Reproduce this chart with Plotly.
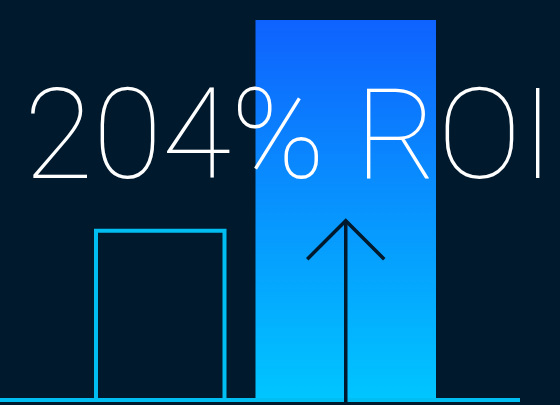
import plotly.graph_objects as go

# ---- data ----
categories = ["Before", "After"]
values = [42.3, 95.0]          # bar heights (index units)
headline = "204% ROI"
arrow_tip = 44.8               # arrow tip height (index units)

# ---- style / layout constants ----
BG = "#01192c"
CYAN = "#00bdf2"
GRAD_TOP = "#0f62fe"
GRAD_BOTTOM = "#00c6ff"
bar_centers = [160.25, 345.75]
bar_widths = [128.5, 180.5]
baseline_end = 520
head_dx = 38.5
head_dy = 9.6

fig = go.Figure()

# outlined "before" bar
fig.add_trace(go.Bar(
    x=[bar_centers[0]], y=[values[0]], width=[bar_widths[0]],
    name=categories[0],
    marker=dict(color="rgba(0,0,0,0)", line=dict(color=CYAN, width=4)),
    hoverinfo="skip",
))

# gradient "after" bar
cx, w, v = bar_centers[1], bar_widths[1], values[1]
x0, x1 = cx - w / 2, cx + w / 2
fig.add_trace(go.Scatter(
    x=[x0, x1, x1, x0, x0], y=[0, 0, v, v, 0],
    name=categories[1], mode="lines", line=dict(width=0),
    fill="toself",
    fillgradient=dict(type="vertical",
                      colorscale=[[0, GRAD_BOTTOM], [1, GRAD_TOP]]),
    hoverinfo="skip",
))

# baseline
fig.add_trace(go.Scatter(
    x=[0, baseline_end], y=[0, 0], mode="lines",
    line=dict(color=CYAN, width=4), hoverinfo="skip",
))

# arrow
fig.add_trace(go.Scatter(
    x=[cx, cx, None, cx - head_dx, cx, cx + head_dx],
    y=[-5, arrow_tip, None, arrow_tip - head_dy, arrow_tip, arrow_tip - head_dy],
    mode="lines", line=dict(color=BG, width=3.5), hoverinfo="skip",
))

fig.add_annotation(
    x=289, y=(405 - 135) / 405, xref="x", yref="paper",
    text=headline, showarrow=False,
    font=dict(family="Roboto", size=126, color="white", weight=100),
    xanchor="center", yanchor="middle",
)

fig.update_layout(
    width=560, height=405,
    margin=dict(l=0, r=0, t=0, b=0),
    paper_bgcolor=BG, plot_bgcolor=BG,
    showlegend=False, barmode="overlay",
    xaxis=dict(range=[0, 560], visible=False, fixedrange=True),
    yaxis=dict(range=[-1.25, 100], visible=False, fixedrange=True),
)

fig.write_html("out.html", config={"displayModeBar": False},
               post_script="document.body.style.margin='0';")
